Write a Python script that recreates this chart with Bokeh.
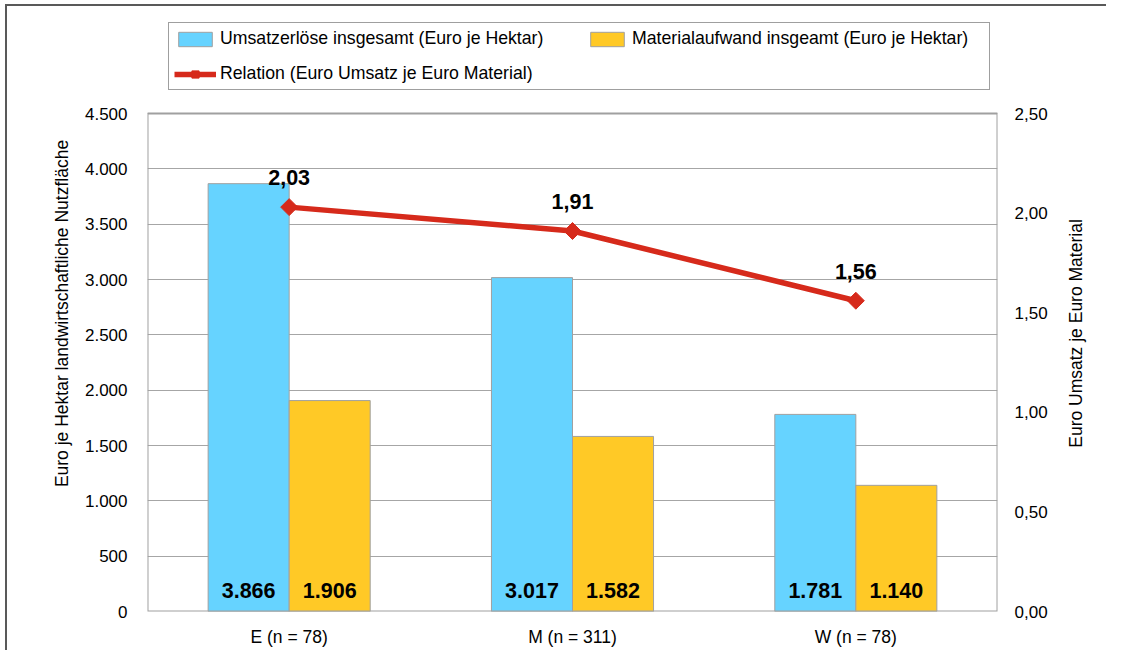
import math
from bokeh.plotting import figure
from bokeh.layouts import row
from bokeh.models import (FactorRange, Range1d, LinearAxis, FixedTicker, CustomJSTickFormatter,
                          ColumnDataSource, LabelSet, Label, Legend, LegendItem, BoxAnnotation)
from bokeh.core.properties import value
from bokeh.transform import dodge
from bokeh.embed import file_html
from bokeh.resources import INLINE

# ---------------- data ----------------
categories = ["E (n = 78)", "M (n = 311)", "W (n = 78)"]
umsatz = [3866, 3017, 1781]
material = [1906, 1582, 1140]
relation = [2.03, 1.91, 1.56]
left_ticks = [0, 500, 1000, 1500, 2000, 2500, 3000, 3500, 4000, 4500]
right_ticks = [0.0, 0.5, 1.0, 1.5, 2.0, 2.5]
left_max = 4500
right_max = 2.5

label_umsatz = "Umsatzerlöse insgesamt (Euro je Hektar)"
label_material = "Materialaufwand insgeamt (Euro je Hektar)"
label_relation = "Relation (Euro Umsatz je Euro Material)"
ylabel_left = "Euro je Hektar landwirtschaftliche Nutzfläche"
ylabel_right = "Euro Umsatz je Euro Material"


def de_int(v):
    return f"{v:,}".replace(",", ".")


def de_dec(v):
    return f"{v:.2f}".replace(".", ",")


src = ColumnDataSource(dict(
    cat=categories,
    umsatz=umsatz,
    material=material,
    relation=relation,
    zero=[0] * len(categories),
    ulab=[de_int(v) for v in umsatz],
    mlab=[de_int(v) for v in material],
    rlab=[de_dec(v) for v in relation],
))

FONT = "Liberation Sans"
BLUE = "#66D3FF"
YELLOW = "#FFC926"
RED = "#D62A1B"
GRAY = "#A0A0A0"

# layout (pixels): frame extends above the plot area to host the legend
W, W2, H = 1055, 51, 650
FRAME_LEFT, FRAME_RIGHT = 147, 997
FRAME_TOP, PLOT_TOP, FRAME_BOTTOM = 15, 113, 611
PLOT_H = FRAME_BOTTOM - PLOT_TOP
stretch = (FRAME_BOTTOM - FRAME_TOP) / PLOT_H
RIGHT_TITLE_X, RIGHT_TITLE_Y = 1075, 372   # placement of the right axis title (strip pixels)

p = figure(x_range=FactorRange(*categories, range_padding=0),
           y_range=Range1d(0, left_max * stretch),
           width=W, height=H, output_backend="svg", toolbar_location=None,
           min_border_left=FRAME_LEFT, min_border_right=W - FRAME_RIGHT,
           min_border_top=FRAME_TOP, min_border_bottom=H - FRAME_BOTTOM)
p.extra_y_ranges = {"rel": Range1d(0, right_max * stretch)}

p.styles = {"box-shadow": "inset 5px 4px 0 white, inset 7px 6px 0 #595959"}
p.border_fill_color = None
p.background_fill_color = "white"
p.outline_line_color = None

p.xgrid.visible = False
p.ygrid.grid_line_color = "#A6A6A6"
p.ygrid.grid_line_width = 1
p.yaxis.ticker = FixedTicker(ticks=left_ticks)
p.yaxis.formatter = CustomJSTickFormatter(
    code="return Math.round(tick).toString().replace(/\\B(?=(\\d{3})+(?!\\d))/g, '.');")

# plot-area border
p.add_layout(BoxAnnotation(bottom=0, top=left_max, fill_alpha=0, line_color=GRAY,
                           line_width=2, line_alpha=1))

right = LinearAxis(y_range_name="rel", ticker=FixedTicker(ticks=right_ticks),
                   formatter=CustomJSTickFormatter(code="return tick.toFixed(2).replace('.', ',');"))
p.add_layout(right, "right")

for ax in [p.yaxis[0], right]:
    ax.axis_line_color = None
    ax.major_tick_line_color = None
    ax.minor_tick_line_color = None
    ax.major_tick_out = 0
    ax.major_tick_in = 0
    ax.major_label_text_font = FONT
    ax.major_label_text_font_size = "17px"
    ax.major_label_text_color = "black"
    ax.axis_label_text_font = FONT
    ax.axis_label_text_font_size = "17.5px"
    ax.axis_label_text_font_style = "normal"
    ax.axis_label_text_color = "black"
p.yaxis[0].major_label_standoff = 20
p.yaxis[0].axis_label = ylabel_left
p.yaxis[0].axis_label_standoff = 10
right.major_label_standoff = 17

p.xaxis.axis_line_color = None
p.xaxis.major_tick_line_color = None
p.xaxis.major_tick_out = 0
p.xaxis.major_tick_in = 0
p.xaxis.major_label_standoff = 15
p.xaxis.major_label_text_font = FONT
p.xaxis.major_label_text_font_size = "17.5px"
p.xaxis.major_label_text_color = "black"

b1 = p.vbar(x=dodge("cat", -0.143, range=p.x_range), top="umsatz", width=0.286, source=src,
            fill_color=BLUE, line_color=GRAY, line_width=1)
b2 = p.vbar(x=dodge("cat", 0.143, range=p.x_range), top="material", width=0.286, source=src,
            fill_color=YELLOW, line_color=GRAY, line_width=1)
ln = p.line(x="cat", y="relation", source=src, y_range_name="rel", line_color=RED, line_width=5.5)
sc = p.scatter(x="cat", y="relation", source=src, y_range_name="rel", marker="square",
               angle=math.pi / 4, size=12, fill_color=RED, line_color=RED)

common = dict(text_align="center", text_baseline="alphabetic", text_font=value(FONT),
              text_font_size="21.5px", text_font_style="bold", text_color="black")
p.add_layout(LabelSet(x=dodge("cat", -0.143, range=p.x_range), y="zero", text="ulab",
                      source=src, y_offset=14, **common))
p.add_layout(LabelSet(x=dodge("cat", 0.143, range=p.x_range), y="zero", text="mlab",
                      source=src, y_offset=14, **common))
p.add_layout(LabelSet(x="cat", y="relation", text="rlab", source=src, y_range_name="rel",
                      y_offset=22, **common))

legend = Legend(items=[LegendItem(label=label_umsatz, renderers=[b1]),
                       LegendItem(label=label_material, renderers=[b2]),
                       LegendItem(label=label_relation, renderers=[ln, sc])],
                location=(21, FRAME_BOTTOM - 90), orientation="horizontal", ncols=2,
                border_line_color="#404040", border_line_width=1.5,
                padding=5, spacing=14, margin=0, label_standoff=4,
                glyph_width=42, glyph_height=18, label_height=18, label_width=352,
                label_text_font=FONT, label_text_font_size="17.7px", label_text_color="black",
                background_fill_color="white", background_fill_alpha=1)
p.add_layout(legend)

# narrow side strip carrying the right axis title (reads bottom to top)
p2 = figure(width=W2, height=H, output_backend="svg", toolbar_location=None,
            x_axis_location=None, y_axis_location=None,
            min_border_left=0, min_border_right=0, min_border_top=0, min_border_bottom=0)
p2.styles = {"box-shadow": "inset 0 4px 0 white, inset 0 6px 0 #595959"}
p2.grid.visible = False
p2.outline_line_color = None
p2.border_fill_color = None
p2.background_fill_color = None
p2.add_layout(Label(x=RIGHT_TITLE_X - W, y=H - RIGHT_TITLE_Y, x_units="screen", y_units="screen",
                    text=ylabel_right, angle=math.pi / 2, text_align="center",
                    text_baseline="middle", text_font=FONT, text_font_size="17.5px",
                    text_color="black"))

layout = row(p, p2, spacing=0)
open("out.html", "w").write(file_html(layout, INLINE))
